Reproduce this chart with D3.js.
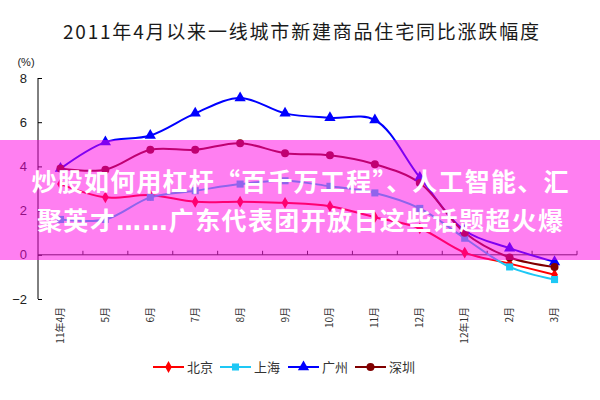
<!DOCTYPE html>
<html><head><meta charset="utf-8">
<script src="https://cdn.jsdelivr.net/npm/d3@7/dist/d3.min.js"></script>
<style>html,body{margin:0;padding:0;background:#fff}svg{display:block}</style>
</head><body><div id="chart"></div>
<script>
const title = "2011年4月以来一线城市新建商品住宅同比涨跌幅度";
const categories = ["11年4月","5月","6月","7月","8月","9月","10月","11月","12月","12年1月","2月","3月"];
const beijing   = [3.2, 2.6, 2.7, 2.4, 2.4, 2.35, 2.2, 1.7, 1.2, 0.1, -0.4, -0.9];
const shanghai  = [1.6, 1.6, 2.6, 2.9, 3.2, 3.35, 3.1, 2.8, 2.1, 0.75, -0.55, -1.12];
const guangzhou = [3.9, 5.1, 5.4, 6.4, 7.1, 6.4, 6.2, 6.1, 3.5, 1.1, 0.3, -0.32];
const shenzhen  = [3.9, 3.85, 4.75, 4.75, 5.05, 4.6, 4.5, 4.1, 3.25, 1.0, -0.12, -0.55];
const seriesNames = ["北京","上海","广州","深圳"];
const yTicks = [-2, 0, 2, 4, 6, 8];
// banner lines split into [text, isLatinPunct] pieces
const bannerLines = [
  [["炒股如何用杠杆“百千万工程”、人工智能、汇", false]],
  [["聚英才", false], ["……", true], ["广东代表团开放日这些话题超火爆", false]]
];

const series = [
  {name: seriesNames[0], values: beijing,   color: "#ff0000", symbol: d3.symbolDiamond,  size: 40},
  {name: seriesNames[1], values: shanghai,  color: "#1ec8f5", symbol: d3.symbolSquare,   size: 50},
  {name: seriesNames[2], values: guangzhou, color: "#0000ff", symbol: d3.symbolTriangle, size: 55},
  {name: seriesNames[3], values: shenzhen,  color: "#800000", symbol: d3.symbolCircle,   size: 50}
];

const W = 600, H = 400;
const svg = d3.select("#chart").append("svg").attr("width", W).attr("height", H)
  .style("font-family", "'Liberation Sans', Arial, sans-serif");

const x = d3.scaleBand().domain(categories).range([38, 577]);
const y = d3.scaleLinear().domain([-2, 8]).range([299, 78]);
const cx = c => x(c) + x.bandwidth() / 2;

// title
svg.append("text").attr("x", 301).attr("y", 39).attr("text-anchor", "middle")
  .attr("font-family", "'Noto Sans CJK SC', sans-serif").attr("font-size", 19)
  .attr("textLength", 476).attr("lengthAdjust", "spacing")
  .attr("fill", "#1a1a1a").text(title);

// (%)
svg.append("text").attr("x", 26).attr("y", 66).attr("text-anchor", "middle")
  .attr("font-size", 11).attr("fill", "#222").text("(%)");

// y axis
const yAxis = svg.append("g").attr("transform", "translate(38,0)")
  .call(d3.axisLeft(y).tickValues(yTicks).tickSize(-4).tickPadding(11).tickFormat(d3.format("d")));
yAxis.select(".domain").attr("stroke", "#000").attr("d", `M0,${y(8)}V${y(-2)}`);
yAxis.selectAll(".tick line").attr("stroke", "#000");
yAxis.selectAll(".tick text").attr("font-size", 13).attr("fill", "#222")
  .attr("font-family", "'Liberation Sans', Arial, sans-serif");

// x axis at zero
const xAxis = svg.append("g").attr("transform", `translate(0,${y(0)})`)
  .call(d3.axisBottom(x).tickSize(0).tickFormat(""));
xAxis.select(".domain").attr("stroke", "#222").attr("d", `M38,0H577`);
const bounds = categories.map((c) => x(c) + x.bandwidth());
xAxis.selectAll(".btick").data(bounds).enter().append("line")
  .attr("x1", d => d).attr("x2", d => d).attr("y1", 0).attr("y2", -4).attr("stroke", "#222");

// x labels rotated
svg.append("g").selectAll("text").data(categories).enter().append("text")
  .attr("transform", d => `translate(${cx(d) + 3.5},307) rotate(-90)`)
  .attr("text-anchor", "end").attr("font-size", 10).attr("fill", "#333")
  .attr("font-family", "'Noto Sans CJK SC', sans-serif").text(d => d);

// lines
const line = d3.line().x((d, i) => cx(categories[i])).y(d => y(d)).curve(d3.curveCatmullRom.alpha(0.5));
const g = svg.append("g");
series.forEach(s => {
  g.append("path").attr("d", line(s.values)).attr("fill", "none")
    .attr("stroke", s.color).attr("stroke-width", 2);
});
series.forEach(s => {
  g.selectAll(null).data(s.values).enter().append("path")
    .attr("d", d3.symbol().type(s.symbol).size(s.size))
    .attr("transform", (d, i) => `translate(${cx(categories[i])},${y(d)})`)
    .attr("fill", s.color);
});

// banner overlay
svg.append("rect").attr("x", 0).attr("y", 140).attr("width", 600).attr("height", 120)
  .attr("fill", "rgb(255,0,228)").attr("fill-opacity", 0.5);
const bannerLens = [537, 526];
bannerLines.forEach((parts, i) => {
  const t = svg.append("text").attr("x", 300).attr("y", 191 + i * 39).attr("text-anchor", "middle")
    .attr("font-family", "'Noto Sans CJK SC', sans-serif").attr("font-weight", "bold")
    .attr("font-size", 25).attr("fill", "#fff")
    .attr("textLength", bannerLens[i]).attr("lengthAdjust", "spacing");
  parts.forEach(([str, latin]) => {
    const ts = t.append("tspan").text(str);
    if (latin) ts.attr("font-family", "'DejaVu Sans', sans-serif");
  });
});

// legend
const legendX = [153, 220, 288, 355];
const lg = svg.append("g");
series.forEach((s, i) => {
  const gx = legendX[i];
  lg.append("line").attr("x1", gx).attr("x2", gx + 31).attr("y1", 367).attr("y2", 367)
    .attr("stroke", s.color).attr("stroke-width", 2);
  lg.append("path").attr("d", d3.symbol().type(s.symbol).size(s.size))
    .attr("transform", `translate(${gx + 15.5},367)`).attr("fill", s.color);
  lg.append("text").attr("x", gx + 34).attr("y", 372).attr("font-size", 13)
    .attr("font-family", "'Noto Sans CJK SC', sans-serif").attr("fill", "#333").text(s.name);
});
</script></body></html>
